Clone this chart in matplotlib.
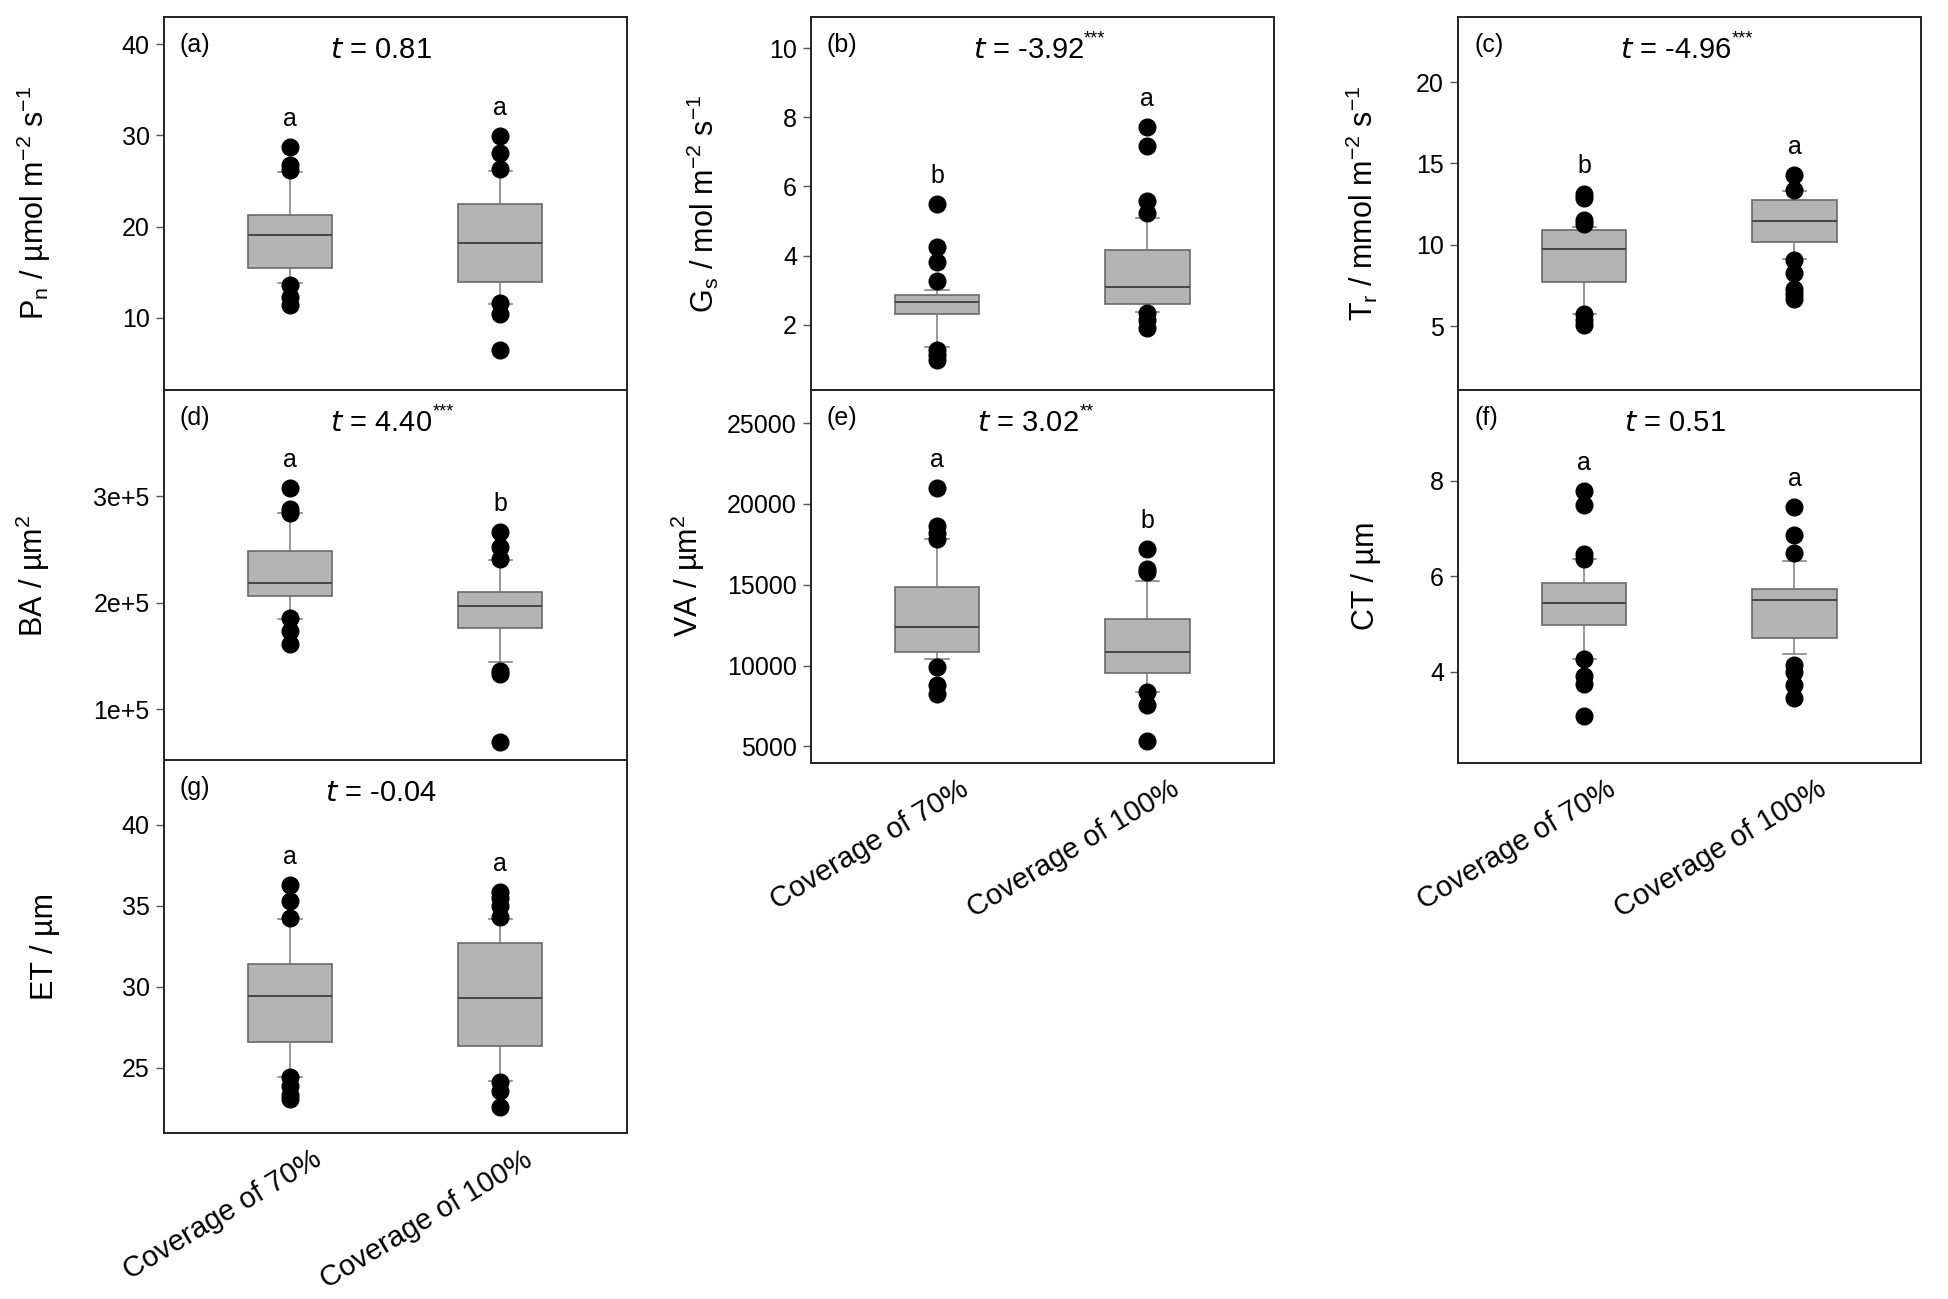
import numpy as np
import matplotlib.pyplot as plt
from matplotlib.transforms import ScaledTranslation

plt.rcParams['font.family'] = ['Liberation Sans', 'DejaVu Sans']
plt.rcParams['mathtext.default'] = 'regular'

groups = ['Coverage of 70%', 'Coverage of 100%']

# box stats per group: whislo, q1, med, q3, whishi
pn_stats = [[13.8, 15.4, 19.05, 21.3, 26.0], [11.5, 13.9, 18.2, 22.5, 26.1]]
pn_out = [[28.7, 26.7, 26.2, 13.6, 12.3, 11.4], [29.9, 28.1, 26.3, 11.6, 10.4, 6.5]]

gs_stats = [[1.35, 2.32, 2.67, 2.85, 3.0], [2.36, 2.6, 3.08, 4.16, 5.08]]
gs_out = [[5.49, 4.26, 3.81, 3.27, 1.28, 1.13, 0.99], [7.72, 7.17, 5.59, 5.22, 2.34, 2.14, 1.9]]

tr_stats = [[5.78, 7.71, 9.76, 10.92, 11.1], [9.1, 10.2, 11.49, 12.73, 13.3]]
tr_out = [[13.1, 12.9, 11.5, 11.3, 5.78, 5.37, 5.06], [14.3, 13.35, 9.04, 8.27, 7.3, 7.0, 6.67]]

ba_stats = [[1.85e5, 2.065e5, 2.187e5, 2.486e5, 2.84e5], [1.44e5, 1.76e5, 1.969e5, 2.097e5, 2.40e5]]
ba_out = [[3.078e5, 2.88e5, 2.84e5, 1.854e5, 1.73e5, 1.61e5], [2.66e5, 2.52e5, 2.41e5, 1.36e5, 1.33e5, 0.69e5]]

va_stats = [[10400, 10820, 12400, 14840, 17800], [8350, 9550, 10820, 12900, 15200]]
va_out = [[20990, 18630, 18180, 17800, 9900, 8800, 8250], [17200, 15960, 15800, 8350, 7530, 5300]]

ct_stats = [[4.26, 4.98, 5.44, 5.86, 6.35], [4.38, 4.70, 5.49, 5.72, 6.31]]
ct_out = [[7.79, 7.48, 6.47, 6.35, 4.26, 3.92, 3.74, 3.08], [7.45, 6.85, 6.49, 4.14, 3.99, 3.73, 3.46]]

et_stats = [[24.43, 26.61, 29.41, 31.42, 34.17], [24.2, 26.34, 29.3, 32.73, 34.2]]
et_out = [[36.3, 35.3, 34.24, 24.43, 23.9, 23.3, 23.1], [35.85, 35.5, 35.0, 34.3, 24.1, 23.6, 22.6]]

panel_tags = ['(a)', '(b)', '(c)', '(d)', '(e)', '(f)', '(g)']
t_values = ['0.81', '-3.92', '-4.96', '4.40', '3.02', '0.51', '-0.04']
t_stars = ['', '***', '***', '***', '**', '', '']
sig_letters = [['a', 'a'], ['b', 'a'], ['b', 'a'], ['a', 'b'], ['a', 'b'], ['a', 'a'], ['a', 'a']]

ylabels = [r'P$_{n}$ / µmol m$^{-2}$ s$^{-1}$',
           r'G$_{s}$ / mol m$^{-2}$ s$^{-1}$',
           r'T$_{r}$ / mmol m$^{-2}$ s$^{-1}$',
           r'BA / µm$^{2}$',
           r'VA / µm$^{2}$',
           r'CT / µm',
           r'ET / µm']

stats_all = [pn_stats, gs_stats, tr_stats, ba_stats, va_stats, ct_stats, et_stats]
out_all = [pn_out, gs_out, tr_out, ba_out, va_out, ct_out, et_out]

ylims = [(2.1, 43), (0.12, 10.9), (1.1, 24), (0.5e5, 4.0e5), (4000, 27060), (2.1, 9.9), (21, 44)]
yticks = [[10, 20, 30, 40], [2, 4, 6, 8, 10], [5, 10, 15, 20], [1e5, 2e5, 3e5],
          [5000, 10000, 15000, 20000, 25000], [4, 6, 8], [25, 30, 35, 40]]

# layout (figure fraction) and y-label x position (axes fraction)
col_left = [0.084, 0.416, 0.748]
col_w = 0.2375
row_bottom = [0.700, 0.413, 0.128]
row_h = 0.287
slots = [(0, 0), (0, 1), (0, 2), (1, 0), (1, 1), (1, 2), (2, 0)]
show_x = [False, False, False, False, True, True, True]
ylab_x = [-0.24, -0.194, -0.168, -0.242, -0.225, -0.166, -0.225]

fig = plt.figure(figsize=(19.49, 12.99), dpi=100)

for i in range(7):
    r, c = slots[i]
    ax = fig.add_axes([col_left[c], row_bottom[r], col_w, row_h])
    bstats = []
    for g in range(2):
        lo, q1, med, q3, hi = stats_all[i][g]
        bstats.append({'whislo': lo, 'q1': q1, 'med': med, 'q3': q3,
                       'whishi': hi, 'fliers': out_all[i][g]})
    ax.bxp(bstats, positions=[1, 2], widths=0.40, capwidths=0.11,
           patch_artist=True, showfliers=True,
           boxprops=dict(facecolor='#b4b4b4', edgecolor='#6a6a6a', linewidth=1.2),
           medianprops=dict(color='#454545', linewidth=1.4),
           whiskerprops=dict(color='#7a7a7a', linewidth=1.1),
           capprops=dict(color='#7a7a7a', linewidth=1.1),
           flierprops=dict(marker='o', markerfacecolor='black', markeredgecolor='black',
                           markersize=12, linestyle='none'))
    ax.set_xlim(0.40, 2.60)
    ax.set_ylim(*ylims[i])
    ax.set_yticks(yticks[i])
    if i == 3:
        ax.set_yticklabels(['1e+5', '2e+5', '3e+5'])
    ax.tick_params(axis='y', direction='out', length=6, width=1, color='#555555',
                   labelsize=18, pad=4)
    if show_x[i]:
        ax.set_xticks([1, 2])
        ax.set_xticklabels(groups, rotation=31, ha='right', va='top',
                           rotation_mode='anchor', fontsize=21)
        ax.tick_params(axis='x', length=0, pad=9)
        shift = ScaledTranslation(0.22, 0, fig.dpi_scale_trans)
        for lab in ax.get_xticklabels():
            lab.set_transform(lab.get_transform() + shift)
    else:
        ax.set_xticks([])
    for s in ax.spines.values():
        s.set_linewidth(1.4)
        s.set_color('#222222')
    ax.set_ylabel(ylabels[i], fontsize=22)
    ax.yaxis.set_label_coords(ylab_x[i], 0.5)

    span = ylims[i][1] - ylims[i][0]
    for g in range(2):
        top = max(out_all[i][g])
        ax.text(g + 1, top + 0.075 * span, sig_letters[i][g], ha='center', va='center',
                fontsize=18)
    ax.text(0.035, 0.925, panel_tags[i], transform=ax.transAxes, ha='left', va='center',
            fontsize=18)
    tlabel = r'$\mathit{t}$ = ' + t_values[i]
    tt = ax.text(0.47, 0.91, tlabel, transform=ax.transAxes, ha='center', va='center',
                 fontsize=21)
    if t_stars[i]:
        ax.annotate(t_stars[i], xy=(1.0, 0.92), xycoords=tt, ha='left', va='center',
                    fontsize=13)

fig.savefig('out.png', dpi=100)
